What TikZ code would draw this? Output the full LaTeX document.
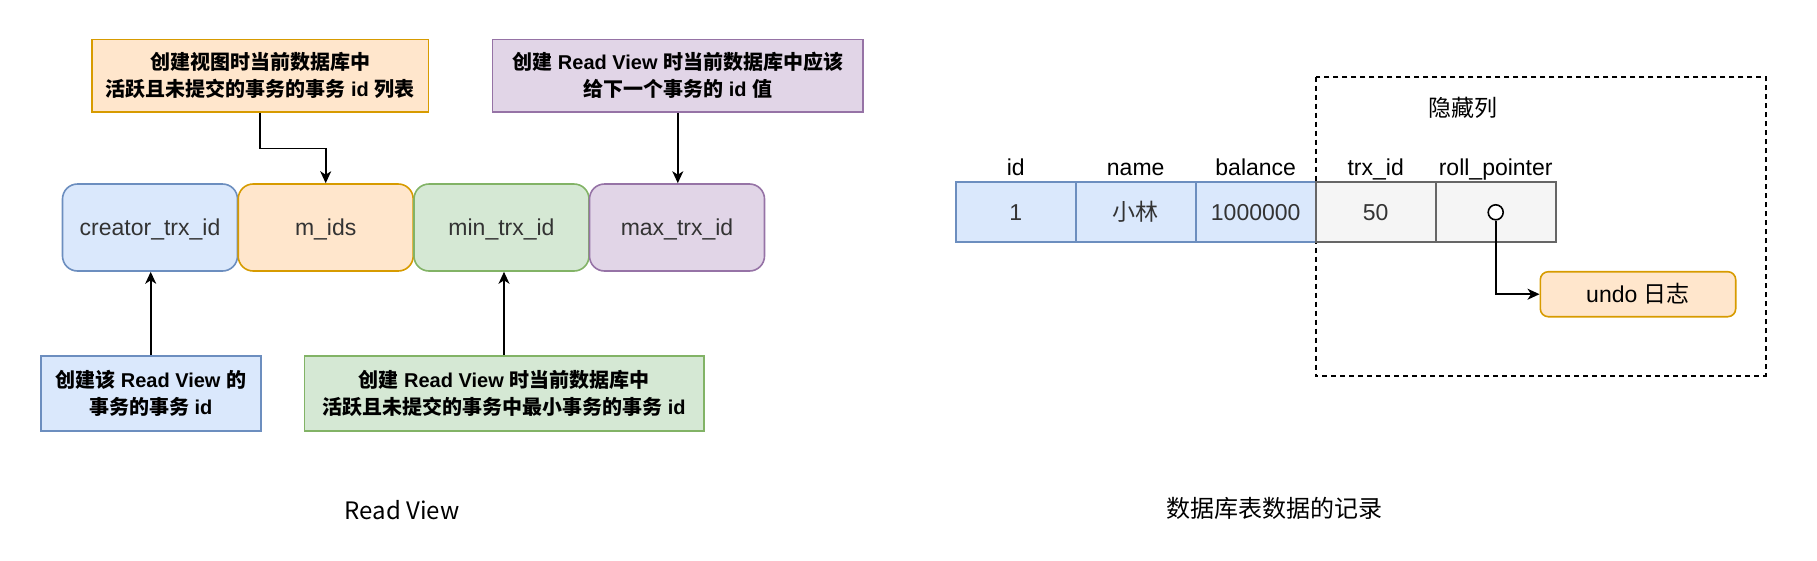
\documentclass[tikz,border=0pt]{standalone}
\usepackage{fontspec}
\setmainfont{Liberation Sans}
\newfontfamily\cjk{Noto Sans CJK SC}
\newcommand{\C}[1]{{\cjk #1}}
\usetikzlibrary{arrows.meta}
\definecolor{bfill}{HTML}{DAE8FC}\definecolor{bdraw}{HTML}{6C8EBF}
\definecolor{ofill}{HTML}{FFE6CC}\definecolor{odraw}{HTML}{D79B00}
\definecolor{gfill}{HTML}{D5E8D4}\definecolor{gdraw}{HTML}{82B366}
\definecolor{pfill}{HTML}{E1D5E7}\definecolor{pdraw}{HTML}{9673A6}
\definecolor{kfill}{HTML}{F5F5F5}\definecolor{kdraw}{HTML}{666666}
\definecolor{txt}{HTML}{333333}
\tikzset{
  note/.style={draw, line width=1.6pt, align=center, inner sep=0pt,
    font=\fontsize{20}{27.4}\selectfont\bfseries, text=black},
  rbox/.style={draw, rounded corners=15pt, line width=1.6pt, inner sep=0pt,
    minimum width=175pt, minimum height=87pt, text=txt,
    text height=16.5pt, text depth=0pt, font=\fontsize{23}{28}\selectfont},
  cell/.style={draw, line width=1.6pt, inner sep=0pt, minimum width=120pt,
    minimum height=60.3pt, text=txt, text height=16.5pt, text depth=0pt,
    font=\fontsize{23}{28}\selectfont},
  head/.style={inner sep=0pt, anchor=base, text=black, font=\fontsize{23}{28}\selectfont},
  captext/.style={inner sep=0pt, text=black, font=\fontsize{24}{28}\selectfont\cjk},
  arr/.style={-{Stealth[length=12pt,width=11pt,inset=3.5pt]}, line width=1.6pt},
}
\begin{document}
\begin{tikzpicture}[x=1pt,y=-1pt]
\useasboundingbox (0,0) rectangle (1817,560);
% Read View part
\node[rbox, fill=bfill, draw=bdraw] (creator) at (150,227.5) {creator\_trx\_id};
\node[rbox, fill=ofill, draw=odraw] (mids) at (325.7,227.5) {m\_ids};
\node[rbox, fill=gfill, draw=gdraw] (minid) at (501.5,227.5) {min\_trx\_id};
\node[rbox, fill=pfill, draw=pdraw] (maxid) at (677,227.5) {max\_trx\_id};

\node[note, fill=ofill, draw=odraw, minimum width=336.6pt, minimum height=72.4pt] (ann1) at (260,75.5)
  {\C{创建视图时当前数据库中}\\\C{活跃且未提交的事务的事务} id \C{列表}};
\node[note, fill=pfill, draw=pdraw, minimum width=370.3pt, minimum height=72.4pt] (ann2) at (677.8,75.5)
  {\C{创建} Read View \C{时当前数据库中应该}\\\C{给下一个事务的} id \C{值}};
\node[note, fill=bfill, draw=bdraw, minimum width=220pt, minimum height=75pt] (ann3) at (150.7,393.5)
  {\C{创建该} Read View \C{的}\\\C{事务的事务} id};
\node[note, fill=gfill, draw=gdraw, minimum width=399.4pt, minimum height=75pt] (ann4) at (504,393.5)
  {\C{创建} Read View \C{时当前数据库中}\\\C{活跃且未提交的事务中最小事务的事务} id};

\draw[arr] (ann1.south) -- ++(0,36) -| (mids.north);
\draw[arr] (ann2.south) -- (ann2.south |- maxid.north);
\draw[arr] (ann3.north) -- (ann3.north |- creator.south);
\draw[arr] (ann4.north) -- (ann4.north |- minid.south);

\node[captext] (rv) at (402,510) {Read View};

% table part
\draw[line width=1.6pt, dash pattern=on 5pt off 4pt] (1315.7,76.7) rectangle (1765.7,376);
\node[inner sep=0pt, text=black, font=\fontsize{23}{28}\selectfont\cjk] (hidden) at (1462.7,108) {隐藏列};

\node[cell, fill=bfill, draw=bdraw] (c1) at (1015.7,211.85) {1};
\node[cell, fill=bfill, draw=bdraw] (c2) at (1135.7,211.85) {\C{小林}};
\node[cell, fill=bfill, draw=bdraw] (c3) at (1255.7,211.85) {1000000};
\node[cell, fill=kfill, draw=kdraw] (c4) at (1375.7,211.85) {50};
\node[cell, fill=kfill, draw=kdraw] (c5) at (1495.7,211.85) {};

\node[head] (h1) at (1015.7,175) {id};
\node[head] (h2) at (1135.7,175) {name};
\node[head] (h3) at (1255.7,175) {balance};
\node[head] (h4) at (1375.7,175) {trx\_id};
\node[head] (h5) at (1495.7,175) {roll\_pointer};

\node[draw, fill=white, circle, line width=1.6pt, minimum size=15pt, inner sep=0pt] (ptr) at (1495.7,212.3) {};
\node[draw=odraw, fill=ofill, rounded corners=8pt, line width=1.6pt, inner sep=0pt,
  minimum width=195.4pt, minimum height=45pt, text=black, text height=16.5pt, text depth=0pt,
  font=\fontsize{23}{28}\selectfont] (undo) at (1638,294.2) {undo \C{日志}};
\draw[arr] (ptr.south) |- (undo.west);

\node[captext] (rec) at (1274,508) {数据库表数据的记录};
\end{tikzpicture}
\end{document}
